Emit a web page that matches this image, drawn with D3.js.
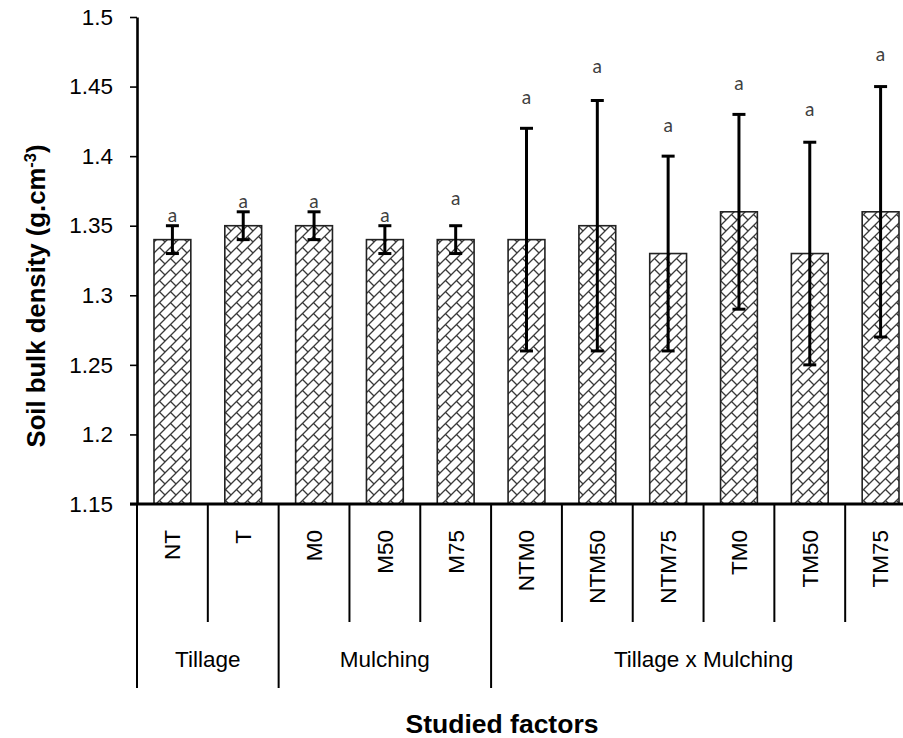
<!DOCTYPE html>
<html>
<head>
<meta charset="utf-8">
<script src="https://cdn.jsdelivr.net/npm/d3@7"></script>
<style>
  body { margin: 0; background: #fff; }
  svg { display: block; }
</style>
</head>
<body>
<div class="chart"></div>
<script>
// data
const categories = ['NT', 'T', 'M0', 'M50', 'M75', 'NTM0', 'NTM50', 'NTM75', 'TM0', 'TM50', 'TM75'];
const means = [1.34, 1.35, 1.35, 1.34, 1.34, 1.34, 1.35, 1.33, 1.36, 1.33, 1.36];
const errors = [0.01, 0.01, 0.01, 0.01, 0.01, 0.08, 0.09, 0.07, 0.07, 0.08, 0.09];
const letters = ['a', 'a', 'a', 'a', 'a', 'a', 'a', 'a', 'a', 'a', 'a'];
const letterAt = [1.353, 1.363, 1.363, 1.353, 1.365, 1.4375, 1.4595, 1.4176, 1.4475, 1.4289, 1.4686];
const groupNames = ['Tillage', 'Mulching', 'Tillage x Mulching'];
const groupSizes = [2, 3, 6];
const yTicks = [1.15, 1.2, 1.25, 1.3, 1.35, 1.4, 1.45, 1.5];

const width = 903;
const height = 738;

const xScale = d3.scaleBand()
  .domain(categories)
  .range([137, 916])
  .paddingInner(0.48)
  .paddingOuter(0.24);

const yScale = d3.scaleLinear()
  .domain([1.15, 1.5])
  .range([504, 17]);

const svg = d3.select('.chart')
  .append('svg')
  .attr('width', width)
  .attr('height', height);

// hatch like excel's diagonal brick
const pat = svg.append('defs').append('pattern')
  .attr('id', 'brick')
  .attr('patternUnits', 'userSpaceOnUse')
  .attr('width', 11)
  .attr('height', 11);
pat.append('rect').attr('width', 11).attr('height', 11).attr('fill', '#fff');
pat.append('path')
  .attr('d', 'M0,11 L11,0 M5.5,5.5 L11,11 M-1,1 L1,-1 M10,12 L12,10')
  .attr('stroke', '#3a3a3a')
  .attr('stroke-width', 1.3)
  .attr('fill', 'none');

// bars
svg.selectAll('rect.bar')
  .data(categories)
  .enter()
  .append('rect')
  .attr('class', 'bar')
  .attr('x', d => xScale(d))
  .attr('y', (d, i) => yScale(means[i]))
  .attr('width', xScale.bandwidth())
  .attr('height', (d, i) => yScale(1.15) - yScale(means[i]))
  .attr('fill', 'url(#brick)')
  .attr('stroke', '#222')
  .attr('stroke-width', 1.6);

// error bars
const cx = d => xScale(d) + xScale.bandwidth() / 2;
const eb = svg.append('g').attr('stroke', '#000').attr('stroke-width', 3);
categories.forEach((c, i) => {
  const top = yScale(means[i] + errors[i]);
  const bot = yScale(means[i] - errors[i]);
  eb.append('line').attr('x1', cx(c)).attr('x2', cx(c)).attr('y1', top).attr('y2', bot);
  eb.append('line').attr('x1', cx(c) - 6.5).attr('x2', cx(c) + 6.5).attr('y1', top).attr('y2', top);
  eb.append('line').attr('x1', cx(c) - 6.5).attr('x2', cx(c) + 6.5).attr('y1', bot).attr('y2', bot);
});

// letters
svg.selectAll('text.letter')
  .data(categories)
  .enter()
  .append('text')
  .attr('class', 'letter')
  .attr('x', d => cx(d))
  .attr('y', (d, i) => yScale(letterAt[i]))
  .attr('text-anchor', 'middle')
  .attr('font-family', 'Lato, "Open Sans", sans-serif')
  .attr('font-size', 19)
  .attr('fill', '#404040')
  .text((d, i) => letters[i]);

// y axis
const yAxis = svg.append('g')
  .attr('transform', 'translate(137,0)')
  .call(d3.axisLeft(yScale)
    .tickValues(yTicks)
    .tickFormat(d => String(+d.toFixed(2)))
    .tickSize(7)
    .tickSizeOuter(0)
    .tickPadding(17));
yAxis.select('.domain').attr('stroke-width', 2.6);
yAxis.selectAll('.tick line').attr('stroke-width', 1.6);
yAxis.selectAll('.tick text')
  .attr('font-family', 'Arial, "Liberation Sans", sans-serif')
  .attr('font-size', 22.5)
  .attr('fill', '#000');

// category axis with grouped lines
const step = xScale.step();
const x0 = xScale.range()[0];
svg.append('line')
  .attr('x1', 130).attr('x2', xScale.range()[1])
  .attr('y1', yScale(1.15)).attr('y2', yScale(1.15))
  .attr('stroke', '#000').attr('stroke-width', 2.8);

const groupEdges = [0];
groupSizes.forEach(s => groupEdges.push(groupEdges[groupEdges.length - 1] + s));
d3.range(categories.length + 1).forEach(i => {
  const isGroup = groupEdges.includes(i);
  svg.append('line')
    .attr('x1', x0 + i * step).attr('x2', x0 + i * step)
    .attr('y1', yScale(1.15)).attr('y2', isGroup ? 688 : 622)
    .attr('stroke', '#000').attr('stroke-width', 2);
});

svg.selectAll('text.cat')
  .data(categories)
  .enter()
  .append('text')
  .attr('class', 'cat')
  .attr('transform', d => `translate(${cx(d)},530) rotate(-90)`)
  .attr('text-anchor', 'end')
  .attr('dy', '0.35em')
  .attr('font-family', 'Arial, "Liberation Sans", sans-serif')
  .attr('font-size', 22.5)
  .text(d => d);

svg.selectAll('text.grp')
  .data(groupNames)
  .enter()
  .append('text')
  .attr('class', 'grp')
  .attr('x', (d, i) => x0 + (groupEdges[i] + groupEdges[i + 1]) / 2 * step)
  .attr('y', 667)
  .attr('text-anchor', 'middle')
  .attr('font-family', 'Arial, "Liberation Sans", sans-serif')
  .attr('font-size', 22.5)
  .text(d => d);

// axis titles
svg.append('text')
  .attr('x', 502)
  .attr('y', 733)
  .attr('text-anchor', 'middle')
  .attr('font-family', 'Arial, "Liberation Sans", sans-serif')
  .attr('font-weight', 'bold')
  .attr('font-size', 26.5)
  .text('Studied factors');

const yTitle = svg.append('text')
  .attr('transform', 'translate(45,296) rotate(-90)')
  .attr('text-anchor', 'middle')
  .attr('font-family', 'Arial, "Liberation Sans", sans-serif')
  .attr('font-weight', 'bold')
  .attr('font-size', 25.7);
yTitle.append('tspan').text('Soil bulk density (g.cm');
yTitle.append('tspan').attr('font-size', 16.5).attr('dy', -9).text('-3');
yTitle.append('tspan').attr('dy', 9).text(')');
</script>
</body>
</html>
